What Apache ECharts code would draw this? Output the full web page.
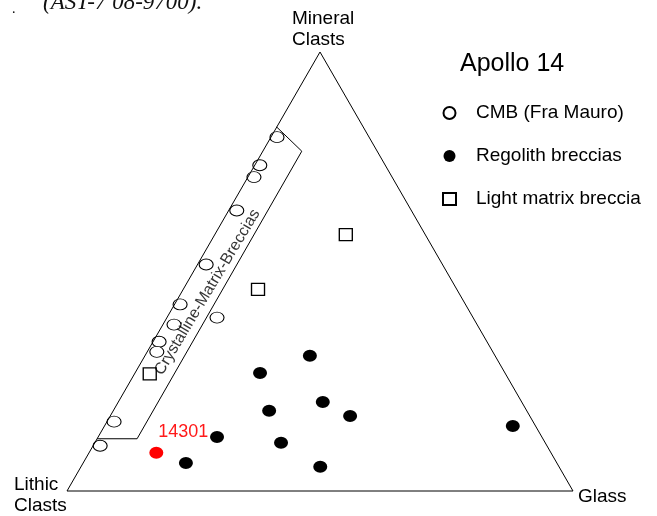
<!DOCTYPE html>
<html>
<head>
<meta charset="utf-8">
<script src="https://cdn.jsdelivr.net/npm/echarts/dist/echarts.min.js"></script>
<style>
  html, body { margin: 0; padding: 0; background: #fff; }
  #chart { width: 657px; height: 516px; }
</style>
</head>
<body>
<div id="chart"></div>
<script>
// Modal compositions in percent: [Mineral clasts, Lithic clasts, Glass]
const cmbFraMauro = [
  [80.6, 18.2, 1.2],
  [74.2, 24.8, 1.0],
  [71.5, 27.3, 1.2],
  [63.9, 34.5, 1.6],
  [51.6, 46.7, 1.7],
  [42.5, 56.4, 1.1],
  [37.9, 59.9, 2.2],
  [39.5, 50.6, 9.9],
  [34.0, 64.8, 1.2],
  [31.7, 66.4, 1.9],
  [15.8, 82.8, 1.4],
  [10.3, 88.3, 1.4]
];
const regolithBreccias = [
  [30.8, 36.6, 32.6],
  [26.9, 48.4, 24.7],
  [20.3, 39.3, 40.4],
  [18.3, 50.9, 30.8],
  [17.1, 35.5, 47.4],
  [12.3, 64.2, 23.5],
  [11.0, 52.2, 36.8],
  [6.4, 73.3, 20.3],
  [5.5, 47.2, 47.3],
  [14.8, 4.5, 80.7]
];
const lightMatrixBreccia = [
  [58.4, 15.7, 25.9],
  [45.9, 39.3, 14.8],
  [26.7, 70.3, 3.0]
];
const sample14301 = [[8.7, 78.0, 13.3]];
const sampleLabel = '14301';

// Outline of the crystalline-matrix breccia field
const crystallineField = [
  [11.9, 88.1, 0],
  [11.9, 80.2, 7.9],
  [77.4, 14.9, 7.7],
  [82.9, 17.1, 0]
];
const fieldLabelAt = [45.3, 49.6, 5.1];
const fieldName = 'Crystalline-Matrix-Breccias';

// Triangle corners: Lithic (bottom left), Glass (bottom right), Mineral (top)
const corners = [[0, 100, 0], [0, 0, 100], [100, 0, 0]];

const seriesNames = ['CMB (Fra Mauro)', 'Regolith breccias', 'Light matrix breccia'];
const titleText = 'Apollo 14';

// Ternary [M, L, G] -> cartesian [x, y] in an equilateral triangle (height mapped to 1)
function toXY(p) {
  const s = p[0] + p[1] + p[2];
  const m = p[0] / s, g = p[2] / s;
  return [g + m / 2, m];
}
function closed(pts) { return pts.concat([pts[0]]).map(toXY); }

const FONT = '"Liberation Sans", Arial, sans-serif';
const chart = echarts.init(document.getElementById('chart'), null, { renderer: 'canvas' });

const outline = { type: 'line', symbol: 'none', silent: true, animation: false, clip: false,
                  lineStyle: { color: '#000', width: 1 } };

chart.setOption({
  animation: false,
  grid: { left: 67, right: 84, top: 52, bottom: 25 },
  xAxis: { type: 'value', min: 0, max: 1, show: false },
  yAxis: { type: 'value', min: 0, max: 1, show: false },
  legend: {
    data: seriesNames,
    orient: 'vertical',
    left: 437,
    top: 98,
    itemWidth: 13,
    itemHeight: 12,
    itemGap: 23,
    selectedMode: false,
    textStyle: { fontSize: 19, fontFamily: FONT, color: '#000', lineHeight: 20, padding: [0, 0, 0, 15] }
  },
  graphic: [
    { type: 'text', x: 43, y: 3, style: { text: '(AST-7 08-9700).', font: 'italic 23px "Liberation Serif", serif', fill: '#111', verticalAlign: 'middle' } },
    { type: 'text', x: 12, y: 9, style: { text: '.', font: '14px "Liberation Serif", serif', fill: '#000', verticalAlign: 'middle' } },
    { type: 'text', x: 292, y: 18.5, style: { text: 'Mineral', font: '19px ' + FONT, fill: '#000', verticalAlign: 'middle' } },
    { type: 'text', x: 292, y: 40, style: { text: 'Clasts', font: '19px ' + FONT, fill: '#000', verticalAlign: 'middle' } },
    { type: 'text', x: 14, y: 485, style: { text: 'Lithic', font: '19px ' + FONT, fill: '#000', verticalAlign: 'middle' } },
    { type: 'text', x: 14, y: 506, style: { text: 'Clasts', font: '19px ' + FONT, fill: '#000', verticalAlign: 'middle' } },
    { type: 'text', x: 578, y: 497, style: { text: 'Glass', font: '19px ' + FONT, fill: '#000', verticalAlign: 'middle' } },
    { type: 'text', x: 460, y: 64, style: { text: titleText, font: '25px ' + FONT, fill: '#000', verticalAlign: 'middle' } }
  ],
  series: [
    Object.assign({}, outline, { data: closed(corners) }),
    Object.assign({}, outline, { data: crystallineField.map(toXY) }),
    {
      type: 'scatter', silent: true, symbolSize: 0, data: [toXY(fieldLabelAt)],
      label: { show: true, position: 'inside', rotate: 59, formatter: fieldName,
               fontSize: 16, fontFamily: FONT, color: '#000' }
    },
    {
      name: seriesNames[0], type: 'scatter', symbol: 'circle', symbolSize: [14, 11], clip: false,
      itemStyle: { color: '#fff', borderColor: '#000', borderWidth: 1, opacity: 1 },
      data: cmbFraMauro.map(toXY)
    },
    {
      name: seriesNames[1], type: 'scatter', symbol: 'circle', symbolSize: [14, 12], clip: false,
      itemStyle: { color: '#000', opacity: 1 },
      data: regolithBreccias.map(toXY)
    },
    {
      name: seriesNames[2], type: 'scatter', symbol: 'rect', symbolSize: [13, 12], clip: false,
      itemStyle: { color: '#fff', borderColor: '#000', borderWidth: 1.3, opacity: 1 },
      data: lightMatrixBreccia.map(toXY)
    },
    {
      name: sampleLabel, type: 'scatter', symbol: 'circle', symbolSize: [14, 12], clip: false,
      itemStyle: { color: '#ff0000', opacity: 1 },
      label: { show: true, formatter: sampleLabel, position: [9, -15], align: 'left', verticalAlign: 'middle',
               fontSize: 18, fontFamily: FONT, color: '#ff1a1a' },
      data: sample14301.map(toXY)
    }
  ]
});
</script>
</body>
</html>
